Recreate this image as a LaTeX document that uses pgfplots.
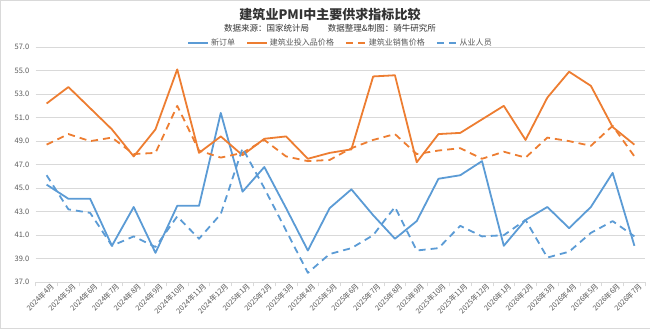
\documentclass[border=0pt]{standalone}
\usepackage{fontspec}
\setmainfont{Noto Sans CJK SC}
\usepackage{pgfplots}
\pgfplotsset{compat=1.18}
\definecolor{sblue}{HTML}{5B9BD5}
\definecolor{sorange}{HTML}{ED7D31}
\definecolor{gridgray}{HTML}{D9D9D9}
\definecolor{labgray}{HTML}{595959}

\begin{document}
\begin{tikzpicture}[x=1pt,y=1pt]
% chart frame
\draw[draw=gridgray] (0.5,0.5) rectangle (649.5,328.5);
\node[font=\bfseries\fontsize{13}{14}\selectfont, text=black!80] at (330,314) {建筑业PMI中主要供求指标比较};
\node[font=\fontsize{8.5}{9}\selectfont, text=black!80] at (330,300) {数据来源：国家统计局\hspace{2.2em}数据整理\&制图：骑牛研究所};
\begin{axis}[
  at={(36pt,46.7pt)}, anchor=south west,
  scale only axis, width=609pt, height=235pt,
  xmin=-0.5, xmax=27.5, ymin=37, ymax=57,
  ytick={37,39,...,57},
  xtick={0,...,27},
  minor xtick={-0.5,0.5,...,27.5},
  xticklabels={2024年4月,2024年5月,2024年6月,2024年7月,2024年8月,2024年9月,2024年10月,2024年11月,2024年12月,2025年1月,2025年2月,2025年3月,2025年4月,2025年5月,2025年6月,2025年7月,2025年8月,2025年9月,2025年10月,2025年11月,2025年12月,2026年1月,2026年2月,2026年3月,2026年4月,2026年5月,2026年6月,2026年7月},
  axis line style={draw=none},
  ymajorgrids, grid style={gridgray, line width=0.8pt},
  xtick pos=bottom, ytick pos=left,
  tick align=outside,
  major tick length=0pt, minor tick length=4pt,
  minor x tick style={draw=gridgray, line width=0.8pt},
  yticklabel style={font=\fontsize{7.5}{8}\selectfont, text=labgray, xshift=-3pt},
  xticklabel style={font=\fontsize{7.3}{7.5}\selectfont, text=labgray, rotate=45, anchor=north east, inner sep=0.5pt, xshift=3pt, yshift=-2pt},
  /pgf/number format/.cd, fixed, fixed zerofill, precision=1, assume math mode=true,
  /pgfplots/.cd,
  legend columns=4,
  legend style={draw=none, fill=none, at={(0.5,1.018)}, anchor=center,
    font=\fontsize{8}{9}\selectfont, text=labgray,
    /tikz/every even column/.append style={column sep=9pt}},
  legend image code/.code={\draw[#1] (0pt,0pt) -- (20pt,0pt);},
  every axis plot/.append style={line width=1.8pt, line join=round, mark=none},
]
\addplot[sblue] coordinates {
(0,45.3) (1,44.1) (2,44.1) (3,40.1) (4,43.4) (5,39.5) (6,43.5) (7,43.5)
(8,51.4) (9,44.7) (10,46.8) (11,43.3) (12,39.7) (13,43.3) (14,44.9) (15,42.7)
(16,40.7) (17,42.2) (18,45.8) (19,46.1) (20,47.3) (21,40.1) (22,42.3) (23,43.4)
(24,41.6) (25,43.4) (26,46.3) (27,40.1)};
\addlegendentry{新订单}
\addplot[sorange] coordinates {
(0,52.2) (1,53.6) (2,51.8) (3,50.0) (4,47.7) (5,50.0) (6,55.1) (7,48.0)
(8,49.4) (9,47.8) (10,49.2) (11,49.4) (12,47.5) (13,48.0) (14,48.3) (15,54.5)
(16,54.6) (17,47.2) (18,49.6) (19,49.7) (20,50.85) (21,52.0) (22,49.1) (23,52.7)
(24,54.9) (25,53.7) (26,50.2) (27,48.7)};
\addlegendentry{建筑业投入品价格}
\addplot[sorange, dash pattern=on 7pt off 5pt] coordinates {
(0,48.7) (1,49.6) (2,49.0) (3,49.3) (4,47.9) (5,48.0) (6,52.0) (7,48.2)
(8,47.6) (9,48.0) (10,49.1) (11,47.7) (12,47.3) (13,47.4) (14,48.4) (15,49.1)
(16,49.6) (17,47.9) (18,48.2) (19,48.4) (20,47.5) (21,48.1) (22,47.6) (23,49.3)
(24,49.0) (25,48.6) (26,50.3) (27,47.7)};
\addlegendentry{建筑业销售价格}
\addplot[sblue, dash pattern=on 7pt off 5pt] coordinates {
(0,46.1) (1,43.2) (2,42.9) (3,40.1) (4,40.9) (5,40.0) (6,42.6) (7,40.7)
(8,42.8) (9,48.4) (10,45.0) (11,41.4) (12,37.8) (13,39.4) (14,39.9) (15,41.0)
(16,43.4) (17,39.7) (18,39.9) (19,41.8) (20,40.9) (21,41.0) (22,42.3) (23,39.1)
(24,39.6) (25,41.2) (26,42.2) (27,40.9)};
\addlegendentry{从业人员}
\end{axis}
\end{tikzpicture}
\end{document}
